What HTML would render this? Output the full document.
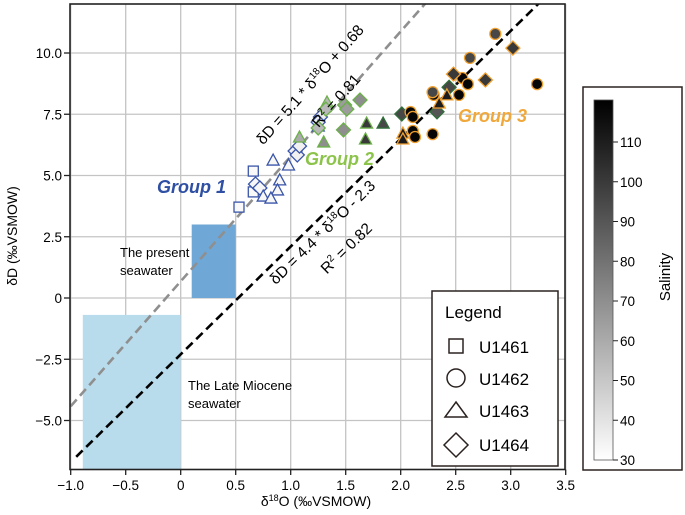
<!DOCTYPE html>
<html><head><meta charset="utf-8"><style>
body{margin:0;background:#fff;}
svg{display:block;font-family:"Liberation Sans",sans-serif;}
</style></head><body>
<svg id="chart" width="685" height="515" viewBox="0 0 685 515" xmlns="http://www.w3.org/2000/svg">
<defs>
<linearGradient id="salg" x1="0" y1="1" x2="0" y2="0"><stop offset="0" stop-color="#fff"/><stop offset="1" stop-color="#000"/></linearGradient>
<clipPath id="pc"><rect x="70" y="4" width="495" height="465.5"/></clipPath>
</defs>
<g id="grid"></g>
<g id="boxes" clip-path="url(#pc)"></g>
<g id="lines" clip-path="url(#pc)"></g>
<g id="pts"></g>
<g id="axes"></g>
<text x="120" y="257" font-size="13">The present</text>
<text x="120" y="275" font-size="13">seawater</text>
<text x="188" y="390" font-size="13">The Late Miocene</text>
<text x="188" y="408" font-size="13">seawater</text>
<text x="157" y="193" font-size="18" font-weight="bold" font-style="italic" fill="#2e4fa3">Group 1</text>
<text x="305" y="165" font-size="18" font-weight="bold" font-style="italic" fill="#8cc34a">Group 2</text>
<text x="458" y="122" font-size="18" font-weight="bold" font-style="italic" fill="#f0a83a">Group 3</text>
<text transform="translate(314,88) rotate(-48.6)" text-anchor="middle" font-size="15.5">δD = 5.1 * δ<tspan font-size="10" dy="-6">18</tspan><tspan dy="6">O + 0.68</tspan></text>
<text transform="translate(340,104) rotate(-48.6)" text-anchor="middle" font-size="15.5">R<tspan font-size="10" dy="-6">2</tspan><tspan dy="6"> = 0.81</tspan></text>
<text transform="translate(326,236) rotate(-44.4)" text-anchor="middle" font-size="15.5">δD = 4.4 * δ<tspan font-size="10" dy="-6">18</tspan><tspan dy="6">O - 2.3</tspan></text>
<text transform="translate(350,252) rotate(-44.4)" text-anchor="middle" font-size="15.5">R<tspan font-size="10" dy="-6">2</tspan><tspan dy="6"> = 0.82</tspan></text>
<text transform="translate(17,236) rotate(-90)" text-anchor="middle" font-size="14">δD (‰VSMOW)</text>
<text x="316" y="506" text-anchor="middle" font-size="14">δ<tspan font-size="9" dy="-5">18</tspan><tspan dy="5">O (‰VSMOW)</tspan></text>
<g>
<rect x="432" y="291" width="126" height="175" fill="#fff" stroke="#2a2220" stroke-width="1.5"/>
<text x="445" y="318" font-size="17">Legend</text>
<rect x="449" y="339" width="14" height="14" fill="none" stroke="#2a2220" stroke-width="1.5"/>
<text x="479" y="353" font-size="17">U1461</text>
<circle cx="456" cy="378" r="9" fill="none" stroke="#2a2220" stroke-width="1.5"/>
<text x="479" y="385" font-size="17">U1462</text>
<polygon points="456,402 467,417 445,417" fill="none" stroke="#2a2220" stroke-width="1.5"/>
<text x="479" y="417" font-size="17">U1463</text>
<polygon points="456,433 468,445 456,457 444,445" fill="none" stroke="#2a2220" stroke-width="1.5"/>
<text x="479" y="451" font-size="17">U1464</text>
</g>
<g>
<rect x="583" y="87" width="99" height="383" fill="#fff" stroke="#2a2220" stroke-width="1.5"/>
<rect x="594" y="100" width="19" height="360" fill="url(#salg)" stroke="#555" stroke-width="0.8"/>
<g id="cbt"></g>
<text transform="translate(670,277) rotate(-90)" text-anchor="middle" font-size="15">Salinity</text>
</g>
</svg>
<script>
const NS="http://www.w3.org/2000/svg";
const xTicks=[-1.0,-0.5,0,0.5,1.0,1.5,2.0,2.5,3.0,3.5];
const xTickLabels=["\u22121.0","\u22120.5","0","0.5","1.0","1.5","2.0","2.5","3.0","3.5"];
const yTicks=[-5,-2.5,0,2.5,5,7.5,10];
const yTickLabels=["\u22125.0","\u22122.5","0","2.5","5.0","7.5","10.0"];
const salTicks=[30,40,50,60,70,80,90,100,110];
const g1Site=["s","s","s","d","d","d","d","d","d","d","t","t","t","t","t","t","t"];
const g1X=[0.66,0.66,0.53,0.68,0.72,1.04,1.06,1.08,1.27,1.25,0.84,0.98,0.90,0.88,0.75,0.82,1.25];
const g1Y=[5.18,4.33,3.71,4.65,4.49,6.0,5.84,6.2,7.39,7.18,5.63,5.43,4.82,4.41,4.16,4.08,7.02];
const g1Sal=[32,32,32,33,33,35,35,35,36,36,33,33,33,33,33,33,36];
const g2Site=["t","t","t","t","t","d","d","d","d","d","d","d","t","d","d"];
const g2X=[1.08,1.33,1.30,1.69,1.68,1.32,1.49,1.51,1.63,1.48,1.25,2.01,1.84,2.44,2.33];
const g2Y=[6.57,8.0,6.37,7.14,6.49,7.71,7.88,7.71,8.08,6.86,6.94,7.51,7.14,8.6,7.6];
const g2Sal=[60,55,70,100,100,55,65,65,70,70,55,95,95,95,90];
const g3Site=["c","c","c","c","c","c","c","c","c","c","c","c","c","d","d","d","t","t","t","t"];
const g3X=[2.09,2.11,2.11,2.13,2.29,2.30,2.53,2.56,2.61,3.24,2.86,2.63,2.29,2.48,2.77,3.02,2.35,2.42,2.02,2.02];
const g3Y=[7.59,7.39,6.82,6.57,6.69,8.29,8.29,8.98,8.73,8.73,10.78,9.8,8.4,9.14,8.9,10.2,7.96,8.29,6.73,6.49];
const g3Sal=[118,118,118,118,118,118,118,118,118,118,95,95,95,100,100,100,110,110,110,110];
const lineSlopes=[5.1,4.4];
const lineIntercepts=[0.68,-2.3];

const X=v=>180.7+110*v, Y=v=>298-24.5*v, S=v=>460-3.975*(v-30);
function mk(tag,attrs,parent){const e=document.createElementNS(NS,tag);for(const k in attrs)e.setAttribute(k,attrs[k]);parent.appendChild(e);return e;}
const grid=document.getElementById('grid'),axes=document.getElementById('axes');
xTicks.forEach((t,i)=>{
 const l=mk('line',{x1:X(t),x2:X(t),y1:4,y2:469.5,stroke:'#c4c4c4','stroke-width':1.3},grid);
 
 
 mk('line',{x1:X(t),x2:X(t),y1:469.5,y2:475,stroke:'#222','stroke-width':1.3},axes);
 const tx=mk('text',{x:X(t),y:490,'text-anchor':'middle','font-size':13.5},axes);tx.textContent=xTickLabels[i];
 
 
});
yTicks.forEach((t,i)=>{
 const l=mk('line',{x1:70,x2:565,y1:Y(t),y2:Y(t),stroke:'#c4c4c4','stroke-width':1.3},grid);
 
 
 mk('line',{x1:64,x2:70,y1:Y(t),y2:Y(t),stroke:'#222','stroke-width':1.3},axes);
 const tx=mk('text',{x:62,y:Y(t)+5,'text-anchor':'end','font-size':13.5},axes);tx.textContent=yTickLabels[i];
 
 
});
const fr=mk('rect',{x:70,y:4,width:495,height:465.5,fill:'none',stroke:'#222','stroke-width':1.6},axes);


const boxes=document.getElementById('boxes');
const b1=mk('rect',{x:X(-0.89),y:Y(-0.69),width:X(0)-X(-0.89),height:Y(-7.2)-Y(-0.69),fill:'#b9dcec'},boxes);


const b2=mk('rect',{x:X(0.1),y:Y(3.0),width:X(0.5)-X(0.1),height:Y(0)-Y(3.0),fill:'#6fa7d6'},boxes);


const lines=document.getElementById('lines');
const lcol=['#8f8f8f','#000'];const lx0=[-1.0,-0.95];
lineSlopes.forEach((m,i)=>{
 const x1=lx0[i],x2=3.5;
 const l=mk('line',{x1:X(x1),y1:Y(m*x1+lineIntercepts[i]),x2:X(x2),y2:Y(m*x2+lineIntercepts[i]),stroke:lcol[i],'stroke-width':2.6,'stroke-dasharray':'9,5'},lines);
 
 
});
function gray(s){const v=Math.round(255*(1-(s-30)/90));return `rgb(${v},${v},${v})`;}
const pts=document.getElementById('pts');
function marker(site,x,y,sal,stroke){
 const cx=X(x),cy=Y(y),f=gray(sal);let e;
 if(site=='s')e=mk('rect',{x:cx-5,y:cy-5,width:10,height:10},pts);
 else if(site=='c')e=mk('circle',{cx:cx,cy:cy,r:5.5},pts);
 else if(site=='t')e=mk('polygon',{points:`${cx},${cy-6} ${cx+6},${cy+5} ${cx-6},${cy+5}`},pts);
 else e=mk('polygon',{points:`${cx},${cy-7} ${cx+7},${cy} ${cx},${cy+7} ${cx-7},${cy}`},pts);
 e.setAttribute('fill',f);e.setAttribute('stroke',stroke);e.setAttribute('stroke-width',1.3);
 
 
}
g1X.forEach((x,i)=>marker(g1Site[i],x,g1Y[i],g1Sal[i],'#3a55a8'));
g2X.forEach((x,i)=>marker(g2Site[i],x,g2Y[i],g2Sal[i],i>=11?'#2f6e3a':'#6cb04a'));
g3X.forEach((x,i)=>marker(g3Site[i],x,g3Y[i],g3Sal[i],'#f0a030'));
const cbt=document.getElementById('cbt');
salTicks.forEach(t=>{
 mk('line',{x1:613,x2:618,y1:S(t),y2:S(t),stroke:'#222','stroke-width':1},cbt);
 const tx=mk('text',{x:620,y:S(t)+5,'font-size':13.5},cbt);tx.textContent=t;
 
 
});
</script>
</body></html>
